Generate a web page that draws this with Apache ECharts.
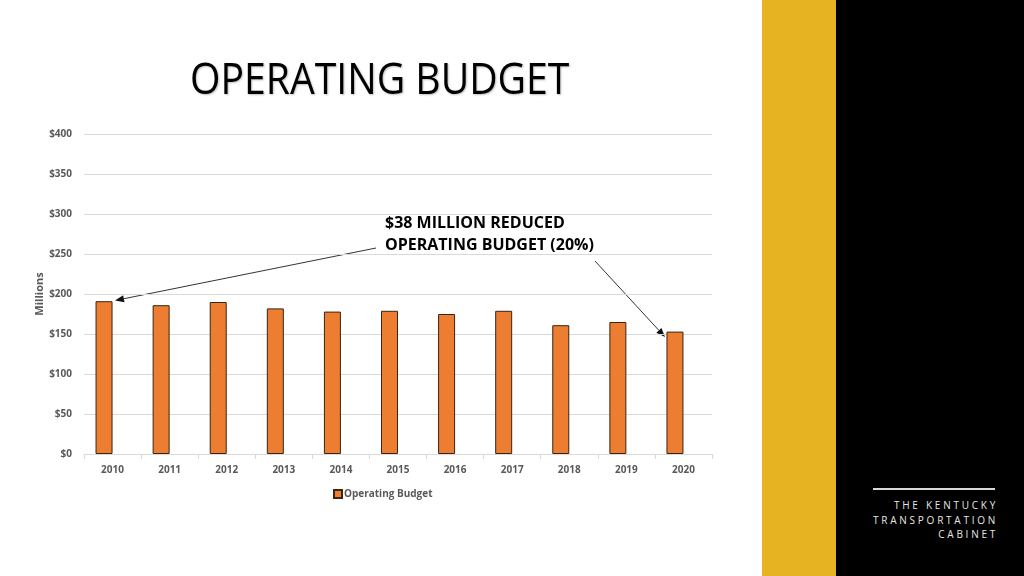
<!DOCTYPE html>
<html>
<head>
<meta charset="utf-8">
<script src="https://cdn.jsdelivr.net/npm/echarts@6/dist/echarts.min.js"></script>
<style>
  html, body { margin: 0; padding: 0; background: #fff; }
  #wrap { position: relative; width: 1024px; height: 576px; overflow: hidden; }
  #chart { position: absolute; left: 0; top: 0; width: 1024px; height: 576px; }
  #gold { position: absolute; left: 762px; top: 0; width: 74px; height: 576px; background: #E6B422; }
  #black { position: absolute; left: 836px; top: 0; width: 188px; height: 576px; background: #000; }
  #rule { position: absolute; left: 873px; top: 488px; width: 122px; height: 2px; background: #d8d8d8; }
  #brand { position: absolute; right: 26px; top: 498px; text-align: right; color: #e6e6e6;
           font-family: 'Open Sans', sans-serif; font-size: 10px; line-height: 14.5px; letter-spacing: 2.75px; }
</style>
</head>
<body>
<div id="wrap">
  <div id="chart"></div>
  <div id="gold"></div>
  <div id="black"></div>
  <div id="rule"></div>
  <div id="brand">THE KENTUCKY<br>TRANSPORTATION<br>CABINET</div>
</div>
<script>
const categories = ['2010','2011','2012','2013','2014','2015','2016','2017','2018','2019','2020'];
const budgetValues = [191, 186, 190, 182, 178, 179, 175, 179, 161, 165, 153];
const yTicks = { min: 0, max: 400, interval: 50 };
const titleText = 'OPERATING BUDGET';
const noteLines = ['$38 MILLION REDUCED', 'OPERATING BUDGET (20%)'];

const chart = echarts.init(document.getElementById('chart'), null, { renderer: 'canvas' });

function arrow(x1, y1, x2, y2) {
  const ang = Math.atan2(y2 - y1, x2 - x1);
  const L = 9, W = 3.5;
  const bx = x2 - L * Math.cos(ang), by = y2 - L * Math.sin(ang);
  const px = -Math.sin(ang) * W, py = Math.cos(ang) * W;
  return [
    { type: 'line', shape: { x1: x1, y1: y1, x2: bx, y2: by }, style: { stroke: '#333', lineWidth: 1 } },
    { type: 'polygon', shape: { points: [[x2, y2], [bx + px, by + py], [bx - px, by - py]] }, style: { fill: '#111' } }
  ];
}

const labelFont = { color: '#595959', fontFamily: 'Open Sans', fontWeight: 'bold', fontSize: 10 };

chart.setOption({
  animation: false,
  grid: { left: 84, right: 312, top: 134, bottom: 122, containLabel: false },
  legend: {
    data: ['Operating Budget'], left: 328, top: 484, icon: 'rect', itemWidth: 8, itemHeight: 8, itemGap: 10,
    textStyle: { color: '#595959', fontFamily: 'Open Sans', fontWeight: 'bold', fontSize: 10, padding: [0, 0, 0, -3] }
  },
  xAxis: {
    type: 'category', data: categories,
    axisLine: { lineStyle: { color: '#d9d9d9' } },
    axisTick: { show: true, length: 5, lineStyle: { color: '#d9d9d9' } },
    axisLabel: Object.assign({ margin: 11 }, labelFont)
  },
  yAxis: {
    type: 'value', min: yTicks.min, max: yTicks.max, interval: yTicks.interval,
    name: 'Millions', nameLocation: 'middle', nameGap: 39, nameMoveOverlap: false,
    nameTextStyle: { color: '#595959', fontFamily: 'Open Sans', fontWeight: 'bold', fontSize: 11 },
    axisLine: { show: false }, axisTick: { show: false },
    splitLine: { lineStyle: { color: '#d9d9d9' } },
    axisLabel: Object.assign({ margin: 12, formatter: v => '$' + v }, labelFont)
  },
  series: [
    { name: 'Operating Budget', type: 'bar', data: budgetValues, barWidth: 17, barGap: '0%',
      itemStyle: { color: '#ED7D31', borderColor: '#3a2414', borderWidth: 1 } },
    { name: 'spacer', type: 'bar', data: [], barWidth: 17, barGap: '0%' }
  ],
  graphic: [
    { type: 'text', x: 190, y: 81, scaleX: 0.89, style: { text: titleText, textAlign: 'left', textVerticalAlign: 'middle',
      font: '44px "Open Sans"', fill: '#000', textShadowColor: 'rgba(0,0,0,0.25)', textShadowBlur: 2, textShadowOffsetX: 1, textShadowOffsetY: 1 } },
    { type: 'text', x: 385, y: 223, style: { text: noteLines[0], textVerticalAlign: 'middle',
      font: 'bold 16px "Open Sans"', fill: '#000' } },
    { type: 'text', x: 385, y: 245, style: { text: noteLines[1], textVerticalAlign: 'middle',
      font: 'bold 16px "Open Sans"', fill: '#000' } }
  ].concat(arrow(376, 248, 115, 300.5)).concat(arrow(595, 261, 665, 337))
});
</script>
</body>
</html>
